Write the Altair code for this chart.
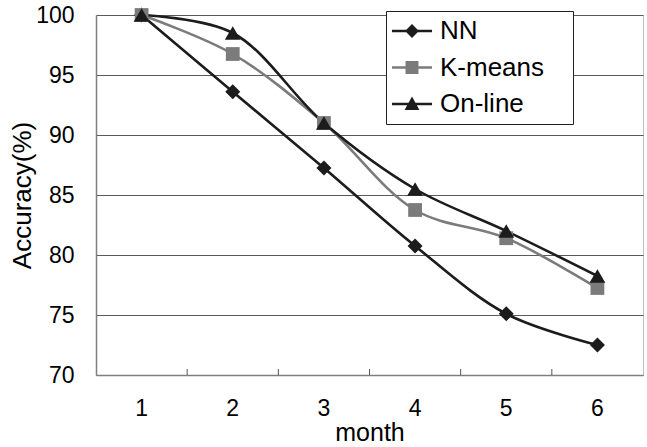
import altair as alt
import pandas as pd

months = ["1", "2", "3", "4", "5", "6"]
series_names = ["NN", "K-means", "On-line"]
nn = [100, 93.6, 87.25, 80.75, 75.1, 72.5]
kmeans = [100, 96.75, 91.0, 83.75, 81.4, 77.25]
online = [100, 98.5, 91.0, 85.5, 82.0, 78.25]
y_ticks = [70, 75, 80, 85, 90, 95, 100]

colors = ["#1c1c1c", "#7b7b7b", "#1c1c1c"]
marker_shapes = ["diamond", "square", "triangle-up"]
marker_sizes = [225, 190, 250]
# legend symbols: line segment + marker (unit coords)
legend_paths = [
    "M-1.17,-0.11L2.17,-0.11L2.17,0.11L-1.17,0.11Z M-0.08,0L0.5,-0.58L1.08,0L0.5,0.58Z",
    "M-1.17,-0.11L2.17,-0.11L2.17,0.11L-1.17,0.11Z M-0.04,-0.54L1.04,-0.54L1.04,0.54L-0.04,0.54Z",
    "M-1.17,-0.11L2.17,-0.11L2.17,0.11L-1.17,0.11Z M0.5,-0.62L1.12,0.5L-0.12,0.5Z",
]

rows = []
for name, vals in zip(series_names, [nn, kmeans, online]):
    for m, v in zip(months, vals):
        rows.append({"month": m, "series": name, "value": v})
df = pd.DataFrame(rows)
ticks_df = pd.DataFrame({"month": months[1:]})

FONT = "Liberation Sans"
W, H = 547, 360

xscale = alt.Scale(type="band", domain=months, paddingInner=0, paddingOuter=0)
yscale = alt.Scale(domain=[70, 100], nice=False, zero=False)

x_axis = alt.Axis(
    labelAngle=0, ticks=False, grid=False, domainColor="#7f7f7f", domainWidth=1.5,
    labelFont=FONT, labelFontSize=23, labelColor="black", labelPadding=22,
    title="month", titleFont=FONT, titleFontSize=25, titleFontWeight="normal",
    titleColor="black", titlePadding=0)
y_axis = alt.Axis(
    values=y_ticks, grid=True, gridColor="#5a5a5a", gridWidth=1, ticks=False,
    domainColor="#7f7f7f", domainWidth=1.5,
    labelFont=FONT, labelFontSize=23, labelColor="black", labelPadding=22,
    title="Accuracy(%)", titleFont=FONT, titleFontSize=26, titleFontWeight="normal",
    titleColor="black", titlePadding=0)
x_enc = alt.X("month:O", scale=xscale, axis=x_axis)
y_enc = alt.Y("value:Q", scale=yscale, axis=y_axis)

base = alt.Chart(df)

# inward tick marks at category boundaries
tick_layer = alt.Chart(ticks_df).mark_rule(color="#555555", strokeWidth=1).encode(
    x=alt.X("month:O", scale=xscale, axis=x_axis, bandPosition=0),
    y=alt.value(H),
    y2=alt.value(H - 6),
)

line_layers = []
marker_layers = []
for name, shp, col, sz in zip(series_names, marker_shapes, colors, marker_sizes):
    sub = base.transform_filter(alt.datum.series == name)
    line_layers.append(
        sub.mark_line(interpolate="catmull-rom", strokeWidth=2.6, color=col).encode(
            x=x_enc, y=y_enc)
    )
    marker_layers.append(
        sub.mark_point(shape=shp, filled=True, size=sz, opacity=1, color=col).encode(
            x=x_enc, y=y_enc)
    )

legend_cfg = dict(
    title=None, orient="none", legendX=290, legendY=-4,
    labelFont=FONT, labelFontSize=26, labelColor="black",
    labelExpr="datum.label + '\u00a0\u00a0\u00a0\u200b'",
    symbolSize=576, symbolStrokeWidth=0, symbolOpacity=1,
    labelOffset=21, rowPadding=10.5, padding=7,
    strokeColor="#222222", fillColor="white",
)

legend_layer = base.mark_point(filled=True, opacity=0).encode(
    x=x_enc,
    y=y_enc,
    color=alt.Color("series:N", scale=alt.Scale(domain=series_names, range=colors),
                    legend=alt.Legend(**legend_cfg)),
    shape=alt.Shape("series:N", scale=alt.Scale(domain=series_names, range=legend_paths),
                    legend=alt.Legend(**legend_cfg)),
)

chart = alt.layer(tick_layer, *line_layers, *marker_layers, legend_layer).properties(
    width=W, height=H,
    padding={"left": 96, "top": 15, "right": 4, "bottom": 72},
    autosize="none",
    background="white",
).configure_view(stroke="#c0c0c0", strokeWidth=1)

chart.save("out.html", embed_options={"renderer": "svg", "actions": False})
